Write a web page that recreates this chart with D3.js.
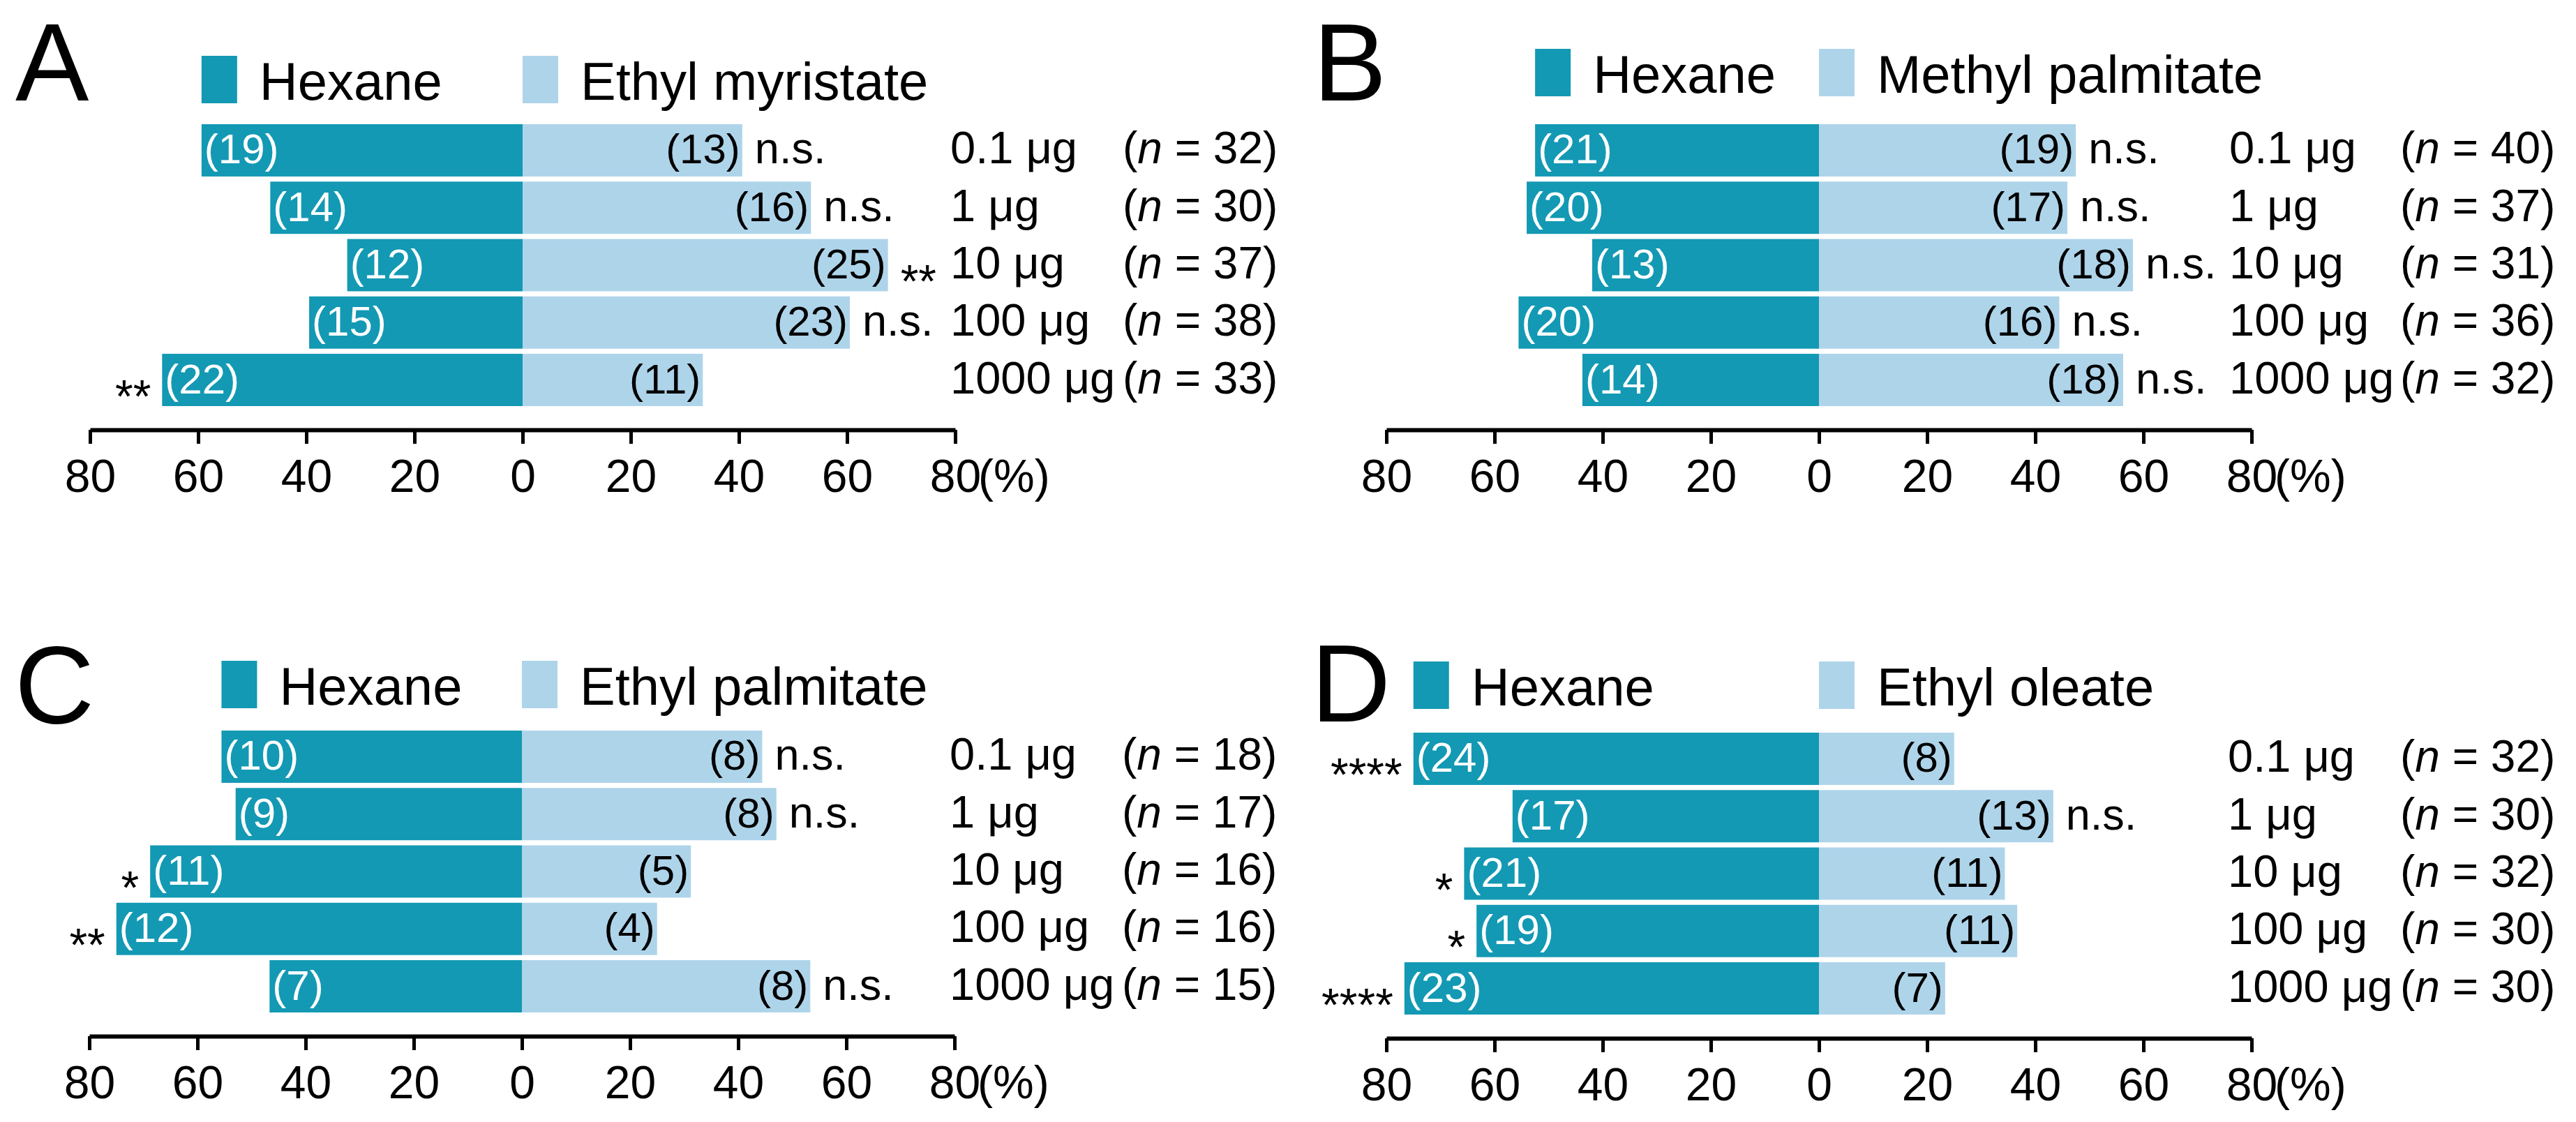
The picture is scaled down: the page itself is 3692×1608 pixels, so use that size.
<!DOCTYPE html>
<html>
<head>
<meta charset="utf-8">
<script src="https://cdn.jsdelivr.net/npm/d3@7"></script>
<style>
  body { margin: 0; background: #fff; }
  svg { display: block; }
  text { font-family: "Liberation Sans", Arial, sans-serif; }
</style>
</head>
<body>
<div id="chart"></div>
<script>
// ---- data ----
const doses = ["0.1 μg", "1 μg", "10 μg", "100 μg", "1000 μg"]
const panelLetters = ["A", "B", "C", "D"]
const compounds = ["Ethyl myristate", "Methyl palmitate", "Ethyl palmitate", "Ethyl oleate"]

// number of animals choosing each side, per dose
const hexaneA = [19, 14, 12, 15, 22]
const compoundA = [13, 16, 25, 23, 11]
const hexaneB = [21, 20, 13, 20, 14]
const compoundB = [19, 17, 18, 16, 18]
const hexaneC = [10, 9, 11, 12, 7]
const compoundC = [8, 8, 5, 4, 8]
const hexaneD = [24, 17, 21, 19, 23]
const compoundD = [8, 13, 11, 11, 7]

// significance marks (left = next to hexane bar, right = next to compound bar)
const sigLeftA = ["", "", "", "", "**"]
const sigRightA = ["n.s.", "n.s.", "**", "n.s.", ""]
const sigLeftB = ["", "", "", "", ""]
const sigRightB = ["n.s.", "n.s.", "n.s.", "n.s.", "n.s."]
const sigLeftC = ["", "", "*", "**", ""]
const sigRightC = ["n.s.", "n.s.", "", "", "n.s."]
const sigLeftD = ["****", "", "*", "*", "****"]
const sigRightD = ["", "n.s.", "", "", ""]

const tickValues = [-80, -60, -40, -20, 0, 20, 40, 60, 80]

// ---- layout ----
const W = 3692, H = 1608
const hexColor = "#1399b3"
const cmpColor = "#aed4ea"
const halfWidth = 620      // pixels for 80 %
const bandHeight = 404     // five bars

const layouts = [
  { zero: 749,  top: 178,  legendDy: -98,  doseDx: 613, nDx: 860, letterX: 22,   letterY: 144 },
  { zero: 2607, top: 178,  legendDy: -108, doseDx: 588, nDx: 833, letterX: 1882, letterY: 144 },
  { zero: 748,  top: 1047, legendDy: -100, doseDx: 613, nDx: 860, letterX: 21,   letterY: 1036 },
  { zero: 2607, top: 1050, legendDy: -102, doseDx: 586, nDx: 833, letterX: 1879, letterY: 1034 },
]

const panels = [
  { hex: hexaneA, cmp: compoundA, sl: sigLeftA, sr: sigRightA },
  { hex: hexaneB, cmp: compoundB, sl: sigLeftB, sr: sigRightB },
  { hex: hexaneC, cmp: compoundC, sl: sigLeftC, sr: sigRightC },
  { hex: hexaneD, cmp: compoundD, sl: sigLeftD, sr: sigRightD },
]

const svg = d3.select("#chart").append("svg")
  .attr("width", W)
  .attr("height", H)

panels.forEach((p, i) => {
  const L = layouts[i]
  const rows = doses.map((d, j) => {
    const n = p.hex[j] + p.cmp[j]
    return {
      dose: d, n: n,
      hex: p.hex[j], cmp: p.cmp[j],
      hexPct: p.hex[j] / n * 100,
      cmpPct: p.cmp[j] / n * 100,
      sl: p.sl[j], sr: p.sr[j],
    }
  })

  const g = svg.append("g")

  const x = d3.scaleLinear()
    .domain([-80, 80])
    .range([L.zero - halfWidth, L.zero + halfWidth])

  const y = d3.scaleBand()
    .domain(doses)
    .range([L.top, L.top + bandHeight])
    .paddingInner(0.089)
    .paddingOuter(0)

  const mid = d => y(d.dose) + y.bandwidth() / 2
  const textY = d => mid(d) + 19
  const starY = d => mid(d) + 46

  // panel letter
  g.append("text")
    .attr("x", L.letterX)
    .attr("y", L.letterY)
    .style("font-size", "158px")
    .text(panelLetters[i])

  // legend, left swatch lined up with first hexane bar
  const legY = L.top + L.legendDy
  const legItems = [
    { x: x(-rows[0].hexPct), color: hexColor, label: "Hexane" },
    { x: x(0), color: cmpColor, label: compounds[i] },
  ]
  const leg = g.selectAll(".leg").data(legItems).join("g").attr("class", "leg")
  leg.append("rect")
    .attr("x", d => d.x)
    .attr("y", legY)
    .attr("width", 51)
    .attr("height", 68)
    .attr("fill", d => d.color)
  leg.append("text")
    .attr("x", d => d.x + 83)
    .attr("y", legY + 63)
    .style("font-size", "76px")
    .text(d => d.label)

  // bars
  g.selectAll(".hexbar").data(rows).join("rect")
    .attr("class", "hexbar")
    .attr("x", d => x(-d.hexPct))
    .attr("y", d => y(d.dose))
    .attr("width", d => x(0) - x(-d.hexPct))
    .attr("height", y.bandwidth())
    .attr("fill", hexColor)

  g.selectAll(".cmpbar").data(rows).join("rect")
    .attr("class", "cmpbar")
    .attr("x", x(0))
    .attr("y", d => y(d.dose))
    .attr("width", d => x(d.cmpPct) - x(0))
    .attr("height", y.bandwidth())
    .attr("fill", cmpColor)

  // counts
  g.selectAll(".hexlab").data(rows).join("text")
    .attr("class", "hexlab")
    .attr("x", d => x(-d.hexPct) + 4)
    .attr("y", textY)
    .attr("fill", "#fff")
    .style("font-size", "60px")
    .text(d => `(${d.hex})`)

  g.selectAll(".cmplab").data(rows).join("text")
    .attr("class", "cmplab")
    .attr("x", d => x(d.cmpPct) - 3)
    .attr("y", textY)
    .attr("text-anchor", "end")
    .style("font-size", "60px")
    .text(d => `(${d.cmp})`)

  // significance
  g.selectAll(".sigl").data(rows).join("text")
    .attr("class", "sigl")
    .attr("x", d => x(-d.hexPct) - 16)
    .attr("y", starY)
    .attr("text-anchor", "end")
    .style("font-size", "66px")
    .text(d => d.sl)

  g.selectAll(".sigr").data(rows).join("text")
    .attr("class", "sigr")
    .attr("x", d => x(d.cmpPct) + 18)
    .attr("y", d => d.sr === "n.s." ? textY(d) : starY(d))
    .style("font-size", d => d.sr === "n.s." ? "63px" : "66px")
    .text(d => d.sr)

  // dose and n
  g.selectAll(".dose").data(rows).join("text")
    .attr("class", "dose")
    .attr("x", L.zero + L.doseDx)
    .attr("y", textY)
    .style("font-size", "65px")
    .text(d => d.dose)

  const nLab = g.selectAll(".nlab").data(rows).join("text")
    .attr("class", "nlab")
    .attr("x", L.zero + L.nDx)
    .attr("y", textY)
    .style("font-size", "64px")
  nLab.append("tspan").text("(")
  nLab.append("tspan").style("font-style", "italic").text("n")
  nLab.append("tspan").text(d => ` = ${d.n})`)

  // axis
  const axisY = L.top + bandHeight + 34
  const xAxis = g.append("g")
    .attr("transform", `translate(0,${axisY})`)
    .call(d3.axisBottom(x)
      .tickValues(tickValues)
      .tickFormat(v => Math.abs(v))
      .tickSizeInner(20)
      .tickSizeOuter(0)
      .tickPadding(22))
  xAxis.select(".domain").attr("stroke", "#000").attr("stroke-width", 6)
  xAxis.selectAll(".tick line").attr("stroke", "#000").attr("stroke-width", 5)
  xAxis.selectAll(".tick text")
    .attr("fill", "#000")
    .style("font-size", "66px")
    .style("font-family", "'Liberation Sans', Arial, sans-serif")

  xAxis.append("text")
    .attr("x", x(80) + 33)
    .attr("y", 42)
    .attr("dy", "0.71em")
    .attr("text-anchor", "start")
    .attr("fill", "#000")
    .style("font-size", "66px")
    .style("font-family", "'Liberation Sans', Arial, sans-serif")
    .text("(%)")
})
</script>
</body>
</html>
